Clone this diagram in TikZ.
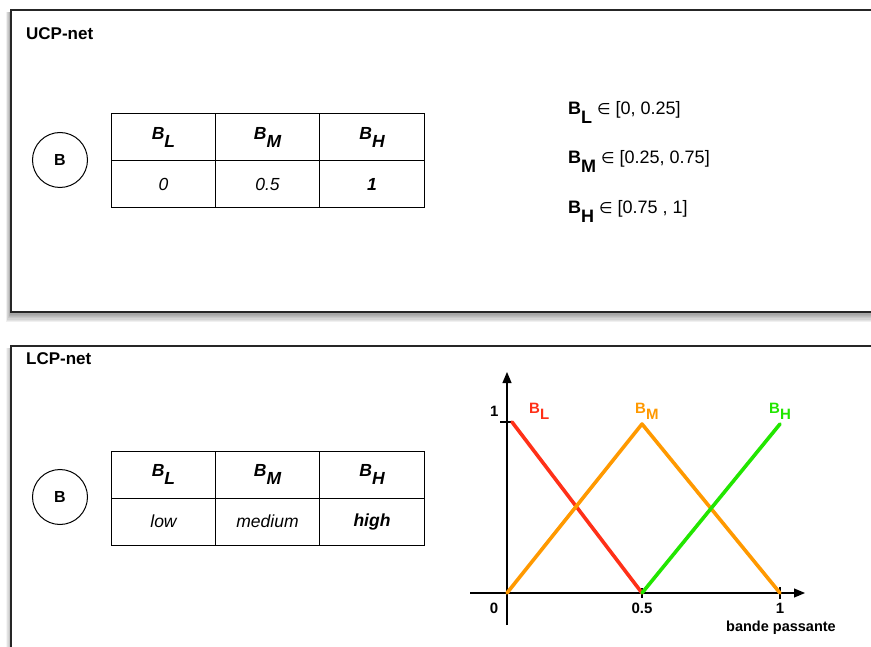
\documentclass[tikz,border=0pt]{standalone}
\usepackage{fontspec}
\setmainfont{Liberation Sans}
\newfontfamily\symfont{DejaVu Sans}
\usetikzlibrary{arrows.meta}
\definecolor{cred}{RGB}{255,48,24}
\definecolor{corange}{RGB}{255,153,0}
\definecolor{cgreen}{RGB}{34,230,0}
\newcommand\subB[2]{#1\raisebox{-0.45em}{#2}}
\newcommand\elem{{\symfont\fontsize{15.5}{18}\selectfont ∈}}
\begin{document}
\begin{tikzpicture}[x=1pt,y=-1pt,
  panel/.style={draw=black!85, line width=1.3pt, fill=white},
  cell/.style={draw, line width=1pt, minimum width=104.5pt, minimum height=47pt, inner sep=0pt, font=\fontsize{17.5}{20}\selectfont},
  title/.style={anchor=base west, inner sep=0pt, font=\bfseries\fontsize{17}{20}\selectfont},
  var/.style={draw, circle, line width=1pt, minimum size=55pt, inner sep=0pt, font=\bfseries\fontsize{16}{19}\selectfont},
  intext/.style={anchor=base west, inner sep=0pt, font=\fontsize{18}{21}\selectfont},
  glab/.style={inner sep=0pt, font=\bfseries\fontsize{15}{18}\selectfont},
  curve/.style={line width=3.6pt, line cap=round, line join=round},
  axis/.style={line width=1.2pt, -{Triangle[length=11pt,width=9pt]}}
]
\useasboundingbox (0,0) rectangle (871,647);
% shadows
\foreach \s in {1,...,8}{
  \fill[black, opacity=0.06] (11-\s*0.6,12) rectangle (880,312+\s*1.3);
  \fill[black, opacity=0.04] (11-\s*0.6,348) rectangle (880,660);
}
% panels
\draw[panel] (11,10) rectangle (880,312);
\draw[panel] (11,346) rectangle (880,660);
\node[title] (t1) at (26,40) {UCP-net};
\node[title] (t2) at (26,364) {LCP-net};

% UCP table
\node[var] (b1) at (60,160) {B};
\node[cell, font=\bfseries\itshape\fontsize{17.5}{20}\selectfont] (h1) at (163.5,137.5) {\subB{B}{L}};
\node[cell, font=\bfseries\itshape\fontsize{17.5}{20}\selectfont] (h2) at (267.5,137.5) {\subB{B}{M}};
\node[cell, font=\bfseries\itshape\fontsize{17.5}{20}\selectfont] (h3) at (372,137.5) {\subB{B}{H}};
\node[cell, font=\itshape\fontsize{17.5}{20}\selectfont] (v1) at (163.5,184.5) {0};
\node[cell, font=\itshape\fontsize{17.5}{20}\selectfont] (v2) at (267.5,184.5) {0.5};
\node[cell, font=\bfseries\itshape\fontsize{17.5}{20}\selectfont] (v3) at (372,184.5) {1};

\node[intext] (i1) at (568,115) {\textbf{\subB{B}{L}} \elem{} [0, 0.25]};
\node[intext] (i2) at (568,164) {\textbf{\subB{B}{M}} \elem{} [0.25, 0.75]};
\node[intext] (i3) at (568,214) {\textbf{\subB{B}{H}} \elem{} [0.75 , 1]};

% LCP table
\node[var] (b2) at (60,497) {B};
\node[cell, font=\bfseries\itshape\fontsize{17.5}{20}\selectfont] (k1) at (163.5,474.5) {\subB{B}{L}};
\node[cell, font=\bfseries\itshape\fontsize{17.5}{20}\selectfont] (k2) at (267.5,474.5) {\subB{B}{M}};
\node[cell, font=\bfseries\itshape\fontsize{17.5}{20}\selectfont] (k3) at (372,474.5) {\subB{B}{H}};
\node[cell, font=\itshape\fontsize{17.5}{20}\selectfont] (w1) at (163.5,521.5) {low};
\node[cell, font=\itshape\fontsize{17.5}{20}\selectfont] (w2) at (267.5,521.5) {medium};
\node[cell, font=\bfseries\itshape\fontsize{17.5}{20}\selectfont] (w3) at (372,521.5) {high};

% graph
\coordinate (O) at (507,593);
\coordinate (ytop) at (507,372);
\coordinate (ybot) at (507,625);
\coordinate (xl) at (470,593);
\coordinate (xr) at (805,593);
\coordinate (y1) at (512,422);
\coordinate (xm) at (642,593);
\coordinate (pm) at (642,424);
\coordinate (x1) at (780,593);
\coordinate (ph) at (780,424);
\draw[axis] (ybot) -- (ytop);
\draw[axis] (xl) -- (xr);
\draw[line width=2.2pt] (500,422) -- (y1);
\draw[line width=2pt] (780,587) -- (780,599);
\draw[line width=2pt] (642,588) -- (642,598);
\draw[curve, cred] (y1) -- (xm);
\draw[curve, corange] (O) -- (pm) -- (x1);
\draw[curve, cgreen] (xm) -- (ph);

\node[glab, anchor=base west] (l1) at (490,417) {1};
\node[glab, anchor=base west, cred] (lL) at (529,413) {\subB{B}{L}};
\node[glab, anchor=base west, corange] (lM) at (635,413) {\subB{B}{M}};
\node[glab, anchor=base west, cgreen] (lH) at (769,413) {\subB{B}{H}};
\node[glab, anchor=base] (l0) at (494,613) {0};
\node[glab, anchor=base] (l05) at (642,613) {0.5};
\node[glab, anchor=base] (l1x) at (780,613) {1};
\node[glab, anchor=base, font=\bfseries\fontsize{14.5}{17}\selectfont] (bp) at (781,631) {bande passante};
\end{tikzpicture}
\end{document}
